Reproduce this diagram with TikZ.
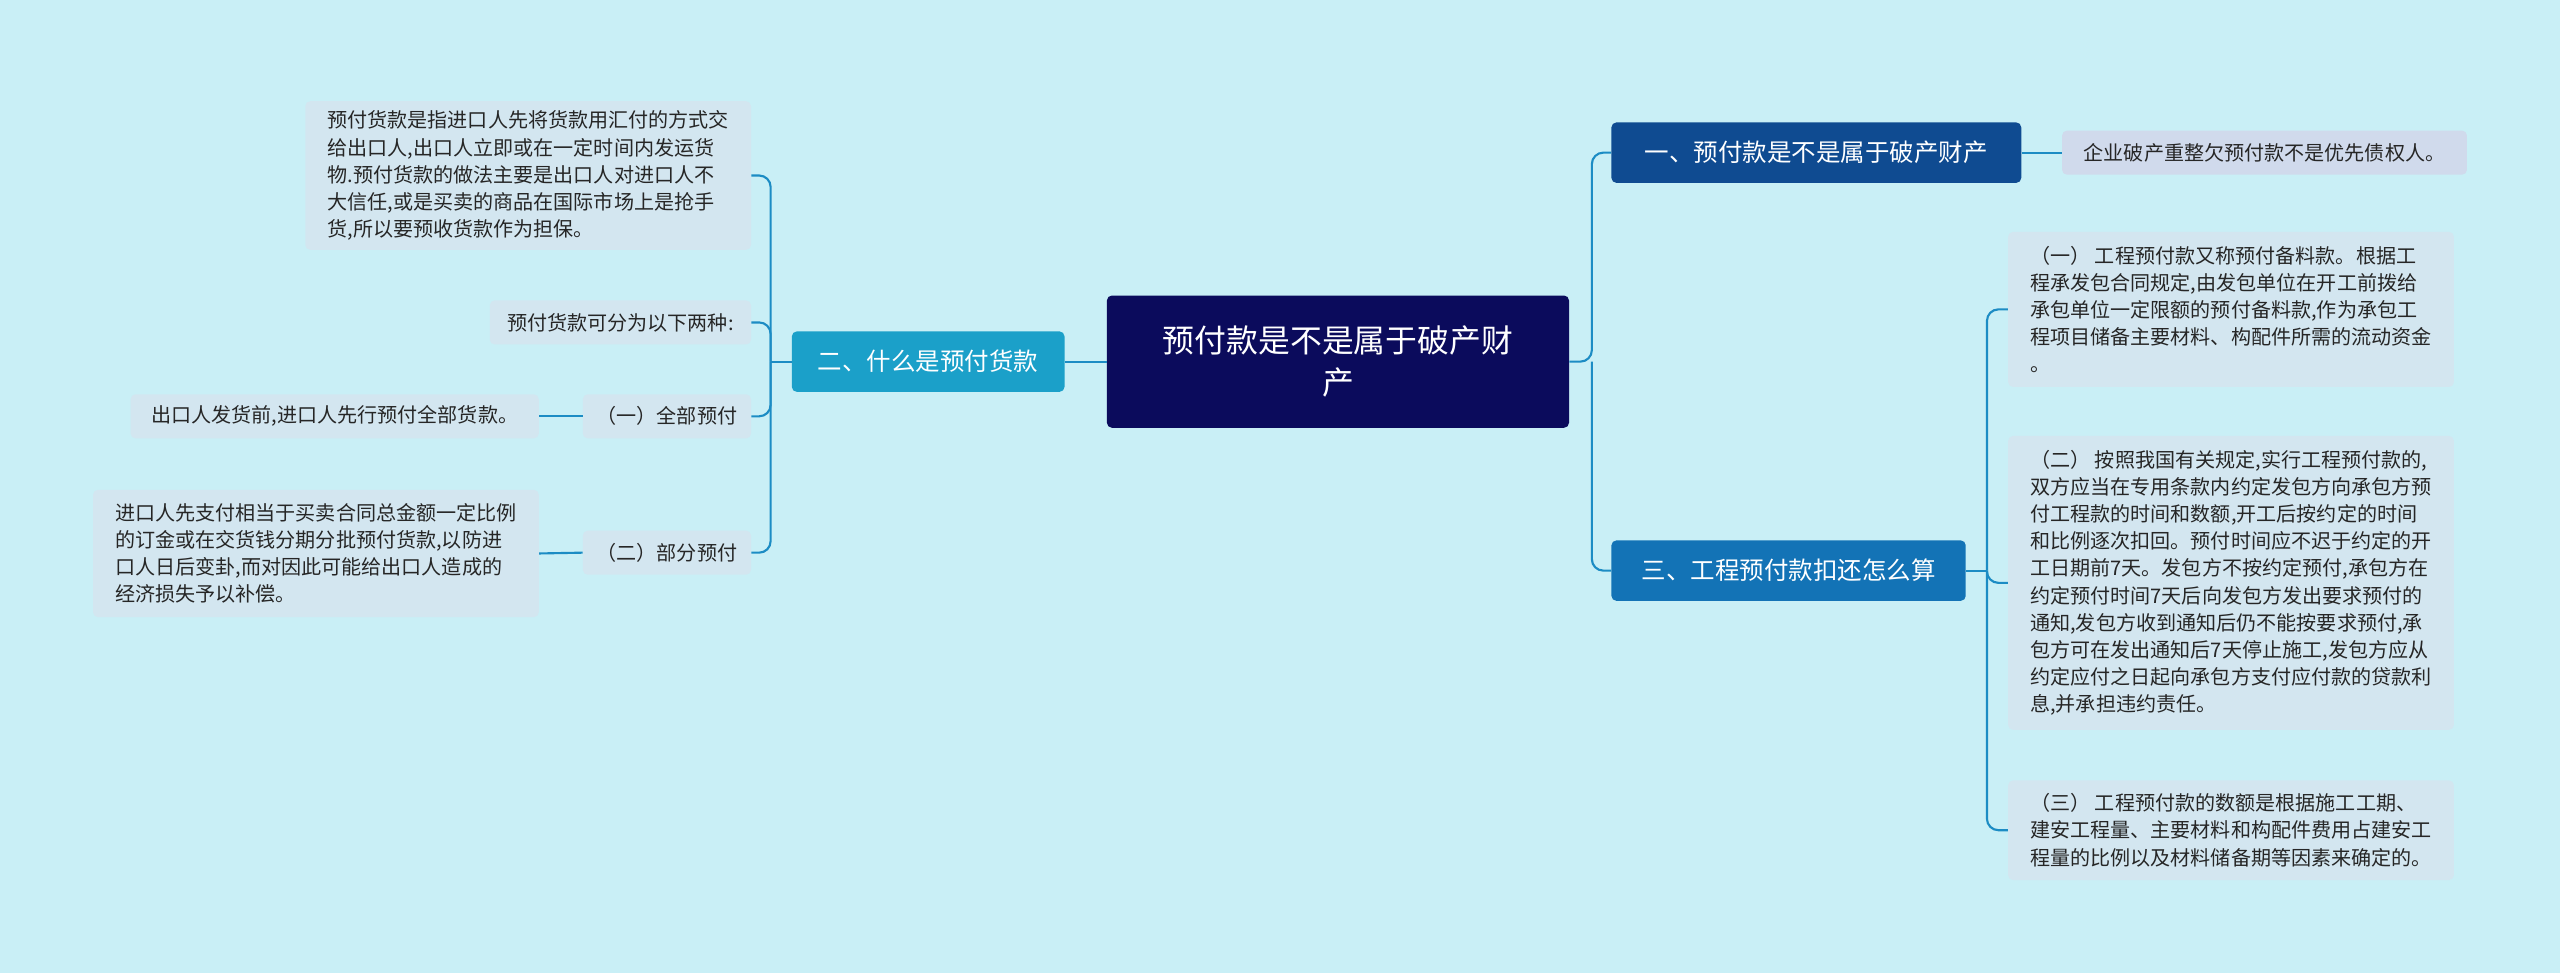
\documentclass[tikz,border=0pt]{standalone}
\usepackage{fontspec}
\setmainfont{Noto Sans CJK SC}
\begin{document}
\begin{tikzpicture}[x=1pt,y=-1pt,
  box/.style={rounded corners=3pt,inner sep=0pt,align=left},
  leaf/.style={box,fill=leafc,text=black!85,font=\fontsize{12.3}{16.6}\selectfont},
  conn/.style={draw=linec,line width=1.3pt,rounded corners=7pt}]
\definecolor{bgc}{HTML}{C9EFF6}
\definecolor{linec}{HTML}{1C8CC4}
\definecolor{leafc}{HTML}{D3E6F0}
\definecolor{cenc}{HTML}{0B0B5C}
\definecolor{b1c}{HTML}{0F4B91}
\definecolor{b3c}{HTML}{1373B6}
\definecolor{b2c}{HTML}{1BA0C9}
\definecolor{l1c}{HTML}{D0DAEC}
\fill[bgc] (0,0) rectangle (1568,596);
\useasboundingbox (0,0) rectangle (1568,596);
% center
\node[box,fill=cenc,text=white,minimum width=283,minimum height=81,align=center,font=\fontsize{19.5}{26}\selectfont] (c) at (819.5,221.5) {预付款是不是属于破产财\\产};
% right branches
\node[box,fill=b1c,text=white,minimum width=251,minimum height=37,align=center,font=\fontsize{15}{18}\selectfont] (b1) at (1112.5,93.5) {一、预付款是不是属于破产财产};
\node[leaf,fill=l1c,minimum width=248,minimum height=27,align=center] (l1) at (1387,93.5) {企业破产重整欠预付款不是优先债权人。};
\node[box,fill=b3c,text=white,minimum width=217,minimum height=37,align=center,font=\fontsize{15}{18}\selectfont] (b3) at (1095.5,349.5) {三、工程预付款扣还怎么算};
\node[leaf,minimum width=273,minimum height=95] (r1) at (1366.5,189.5) {（一） 工程预付款又称预付备料款。根据工\\程承发包合同规定,由发包单位在开工前拨给\\承包单位一定限额的预付备料款,作为承包工\\程项目储备主要材料、构配件所需的流动资金\\。};
\node[leaf,minimum width=273,minimum height=180] (r2) at (1366.5,357) {（二） 按照我国有关规定,实行工程预付款的,\\双方应当在专用条款内约定发包方向承包方预\\付工程款的时间和数额,开工后按约定的时间\\和比例逐次扣回。预付时间应不迟于约定的开\\工日期前7天。发包方不按约定预付,承包方在\\约定预付时间7天后向发包方发出要求预付的\\通知,发包方收到通知后仍不能按要求预付,承\\包方可在发出通知后7天停止施工,发包方应从\\约定应付之日起向承包方支付应付款的贷款利\\息,并承担违约责任。};
\node[leaf,minimum width=273,minimum height=61] (r3) at (1366.5,508.5) {（三） 工程预付款的数额是根据施工工期、\\建安工程量、主要材料和构配件费用占建安工\\程量的比例以及材料储备期等因素来确定的。};
% left
\node[box,fill=b2c,text=white,minimum width=167,minimum height=37,align=center,font=\fontsize{15}{18}\selectfont] (b2) at (568.5,221.5) {二、什么是预付货款};
\node[leaf,minimum width=273,minimum height=91] (a1) at (323.5,107.5) {预付货款是指进口人先将货款用汇付的方式交\\给出口人,出口人立即或在一定时间内发运货\\物.预付货款的做法主要是出口人对进口人不\\大信任,或是买卖的商品在国际市场上是抢手\\货,所以要预收货款作为担保。};
\node[leaf,minimum width=160,minimum height=27,align=center] (a2) at (380,197.5) {预付货款可分为以下两种:};
\node[leaf,minimum width=103,minimum height=27,align=center] (a3) at (408.5,255) {（一）全部预付};
\node[leaf,minimum width=250,minimum height=27,align=center] (a4) at (205,255) {出口人发货前,进口人先行预付全部货款。};
\node[leaf,minimum width=103,minimum height=27,align=center] (a5) at (408.5,338.5) {（二）部分预付};
\node[leaf,minimum width=273,minimum height=78] (a6) at (193.5,339) {进口人先支付相当于买卖合同总金额一定比例\\的订金或在交货钱分期分批预付货款,以防进\\口人日后变卦,而对因此可能给出口人造成的\\经济损失予以补偿。};
% connectors
\coordinate (jc) at (975,221.5);
\draw[conn] (c.east) -- (jc) |- (b1.west);
\draw[conn] (jc) |- (b3.west);
\draw[conn] (b1.east) -- (l1.west);
\coordinate (jr) at (1217,349.5);
\draw[conn] (b3.east) -- (jr);
\draw[conn] (jr) |- (r1.west);
\draw[conn] (jr) |- (r2.west);
\draw[conn] (jr) |- (r3.west);
\draw[conn] (c.west) -- (b2.east);
\coordinate (jl) at (472,221.5);
\draw[conn] (b2.west) -- (jl);
\draw[conn] (jl) |- (a1.east);
\draw[conn] (jl) |- (a2.east);
\draw[conn] (jl) |- (a3.east);
\draw[conn] (jl) |- (a5.east);
\draw[conn] (a3.west) -- (a4.east);
\draw[conn] (a5.west) -- (a6.east);
\end{tikzpicture}
\end{document}
